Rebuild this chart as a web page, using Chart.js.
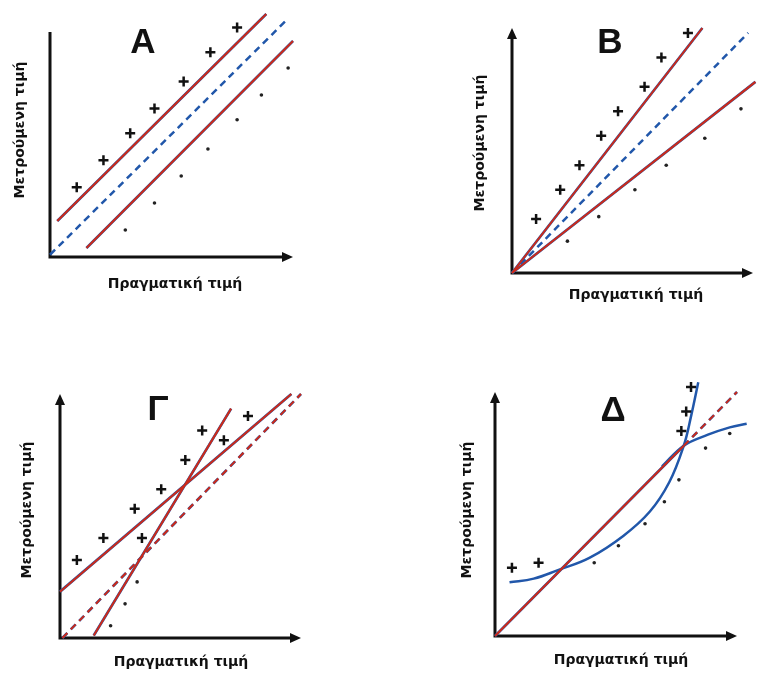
<!DOCTYPE html>
<html lang="el">
<head>
    <meta charset="UTF-8">
    <title>Σφάλματα μέτρησης</title>
    <script src="https://cdn.jsdelivr.net/npm/chart.js"></script>
    <style>
        body {
            margin: 0;
            background-color: white;
        }
        .sheet {
            position: relative;
            width: 777px;
            height: 675px;
        }
        canvas {
            position: absolute;
        }
    </style>
</head>
<body>
    <div class="sheet">
        <canvas id="pA" width="388" height="337" style="left:0;top:0"></canvas>
        <canvas id="pB" width="389" height="337" style="left:388px;top:0"></canvas>
        <canvas id="pG" width="388" height="338" style="left:0;top:337px"></canvas>
        <canvas id="pD" width="389" height="338" style="left:388px;top:337px"></canvas>
    </div>

    <script>
        const panelTitles = ['Α', 'Β', 'Γ', 'Δ'];
        const xLabel = 'Πραγματική τιμή';
        const yLabel = 'Μετρούμενη τιμή';

        // A - constant offset
        const aPlus = [[1.1, 3.1], [2.2, 4.3], [3.3, 5.5], [4.3, 6.6], [5.5, 7.8], [6.6, 9.1], [7.7, 10.2]];
        const aMinus = [[3.1, 1.2], [4.3, 2.4], [5.4, 3.6], [6.5, 4.8], [7.7, 6.1], [8.7, 7.2], [9.8, 8.4]];
        const aUpper = [[0.3, 1.6], [8.9, 10.8]];
        const aIdeal = [[0, 0.1], [9.8, 10.6]];
        const aLower = [[1.5, 0.4], [10, 9.6]];

        // B - proportional
        const bPlus = [[1.0, 2.2], [2.0, 3.4], [2.8, 4.4], [3.7, 5.6], [4.4, 6.6], [5.5, 7.6], [6.2, 8.8], [7.3, 9.8]];
        const bMinus = [[2.3, 1.3], [3.6, 2.3], [5.1, 3.4], [6.4, 4.4], [8.0, 5.5], [9.5, 6.7]];
        const bUpper = [[0, 0], [7.9, 10.0]];
        const bIdeal = [[0, 0], [9.8, 9.8]];
        const bLower = [[0, 0], [10.1, 7.8]];

        // Γ - offset plus slope
        const gPlus = [[0.7, 3.2], [1.8, 4.1], [3.1, 5.3], [3.4, 4.1], [4.2, 6.1], [5.2, 7.3], [5.9, 8.5], [6.8, 8.1], [7.8, 9.1]];
        const gMinus = [[3.2, 2.3], [2.7, 1.4], [2.1, 0.5]];
        const gShallow = [[0, 1.9], [9.6, 10.0]];
        const gSteep = [[1.4, 0.1], [7.1, 9.4]];
        const gIdeal = [[0.1, 0], [10, 10]];

        // Δ - non linear
        const dPlus = [[0.7, 2.8], [1.8, 3.0], [7.7, 8.4], [7.9, 9.2], [8.1, 10.2]];
        const dMinus = [[4.1, 3.0], [5.1, 3.7], [6.2, 4.6], [7.0, 5.5], [7.6, 6.4], [8.7, 7.7], [9.7, 8.3]];
        const dIdeal = [[0, 0], [7.8, 7.8]];
        const dIdealExt = [[7.8, 7.8], [10, 10]];
        const dConvex = [[0.6, 2.2], [1.6, 2.35], [2.6, 2.7], [3.9, 3.2], [5.3, 4.1], [6.4, 5.1], [7.2, 6.3], [7.8, 7.8], [8.1, 9.0], [8.4, 10.4]];
        const dConcave = [[6.9, 6.95], [7.8, 7.8], [8.8, 8.25], [9.7, 8.55], [10.4, 8.7]];

        const RED = '#cc2a1a';
        const BLUE = '#2157aa';
        const toXY = arr => arr.map(p => ({ x: p[0], y: p[1] }));

        function plusSet(pts) {
            return { data: toXY(pts), pointStyle: 'cross', pointRadius: 5, pointBorderWidth: 2.5,
                     pointBorderColor: '#111', showLine: false, order: 0, clip: false };
        }
        function minusSet(pts) {
            return { data: toXY(pts), pointStyle: 'circle', pointRadius: 1.8, pointBorderWidth: 0,
                     pointBackgroundColor: '#222', showLine: false, order: 0, clip: false };
        }
        // red line with a thin blue fringe, as in the scanned figure
        function redLine(pts, dash) {
            return [
                { data: toXY(pts), showLine: true, pointRadius: 0, borderColor: RED, borderWidth: 2,
                  borderDash: dash || [], order: 1, clip: false },
                { data: toXY(pts), showLine: true, pointRadius: 0, borderColor: BLUE, borderWidth: 2.7,
                  borderDash: dash || [], order: 2, clip: false }
            ];
        }
        function blueLine(pts, dash) {
            return { data: toXY(pts), showLine: true, pointRadius: 0, borderColor: BLUE, borderWidth: 2.5,
                     borderDash: dash || [], order: 2, clip: false, tension: 0.4 };
        }

        const panels = [
            { id: 'pA', area: [50, 32, 293, 257], up: false, title: [143, 53], xl: [175, 284], yl: [20, 130],
              sets: [plusSet(aPlus), minusSet(aMinus), ...redLine(aUpper), blueLine(aIdeal, [7, 5]), ...redLine(aLower)] },
            { id: 'pB', area: [124, 28, 365, 273], up: true, title: [222, 53], xl: [248, 295], yl: [92, 143],
              sets: [plusSet(bPlus), minusSet(bMinus), ...redLine(bUpper), blueLine(bIdeal, [7, 5]), ...redLine(bLower)] },
            { id: 'pG', area: [60, 57, 301, 301], up: true, title: [158, 83], xl: [181, 325], yl: [27, 173],
              sets: [plusSet(gPlus), minusSet(gMinus), ...redLine(gShallow), ...redLine(gSteep), ...redLine(gIdeal, [7, 5])] },
            { id: 'pD', area: [107, 55, 349, 299], up: true, title: [225, 84], xl: [233, 323], yl: [79, 173],
              sets: [plusSet(dPlus), minusSet(dMinus), ...redLine(dIdeal), ...redLine(dIdealExt, [7, 5]),
                     blueLine(dConvex), blueLine(dConcave)] }
        ];

        function arrowHead(ctx, x, y, dir) {
            ctx.beginPath();
            if (dir === 'right') {
                ctx.moveTo(x, y); ctx.lineTo(x - 11, y - 5); ctx.lineTo(x - 11, y + 5);
            } else {
                ctx.moveTo(x, y); ctx.lineTo(x - 5, y + 11); ctx.lineTo(x + 5, y + 11);
            }
            ctx.closePath();
            ctx.fill();
        }

        const sketchAxes = {
            id: 'sketchAxes',
            beforeDatasetsDraw(chart, args, opts) {
                const ctx = chart.ctx;
                const a = chart.chartArea;
                ctx.save();
                ctx.strokeStyle = '#111';
                ctx.fillStyle = '#111';
                ctx.lineWidth = 3;
                ctx.beginPath();
                ctx.moveTo(a.left, a.top + (opts.up ? 8 : 0));
                ctx.lineTo(a.left, a.bottom);
                ctx.lineTo(a.right - 8, a.bottom);
                ctx.stroke();
                arrowHead(ctx, a.right, a.bottom, 'right');
                if (opts.up) arrowHead(ctx, a.left, a.top, 'up');
                ctx.restore();
            },
            afterDraw(chart, args, opts) {
                const ctx = chart.ctx;
                ctx.save();
                ctx.fillStyle = '#111';
                ctx.textAlign = 'center';
                ctx.font = 'bold 35px "Liberation Sans", Arial, sans-serif';
                ctx.textBaseline = 'alphabetic';
                ctx.fillText(opts.title, opts.titlePos[0], opts.titlePos[1]);

                ctx.font = 'bold 14px "DejaVu Sans", sans-serif';
                ctx.textBaseline = 'middle';
                ctx.fillText(xLabel, opts.xl[0], opts.xl[1]);

                ctx.translate(opts.yl[0], opts.yl[1]);
                ctx.rotate(-Math.PI / 2);
                ctx.fillText(yLabel, 0, 0);
                ctx.restore();
            }
        };

        panels.forEach((p, i) => {
            const cv = document.getElementById(p.id);
            new Chart(cv, {
                type: 'scatter',
                data: { datasets: p.sets },
                options: {
                    responsive: false,
                    animation: false,
                    events: [],
                    layout: {
                        padding: { left: p.area[0], top: p.area[1],
                                   right: cv.width - p.area[2], bottom: cv.height - p.area[3] }
                    },
                    scales: {
                        x: { type: 'linear', min: 0, max: 10, display: false },
                        y: { type: 'linear', min: 0, max: 10, display: false }
                    },
                    plugins: {
                        legend: { display: false },
                        tooltip: { enabled: false },
                        sketchAxes: { up: p.up, title: panelTitles[i], titlePos: p.title, xl: p.xl, yl: p.yl }
                    }
                },
                plugins: [sketchAxes]
            });
        });
    </script>
</body>
</html>
